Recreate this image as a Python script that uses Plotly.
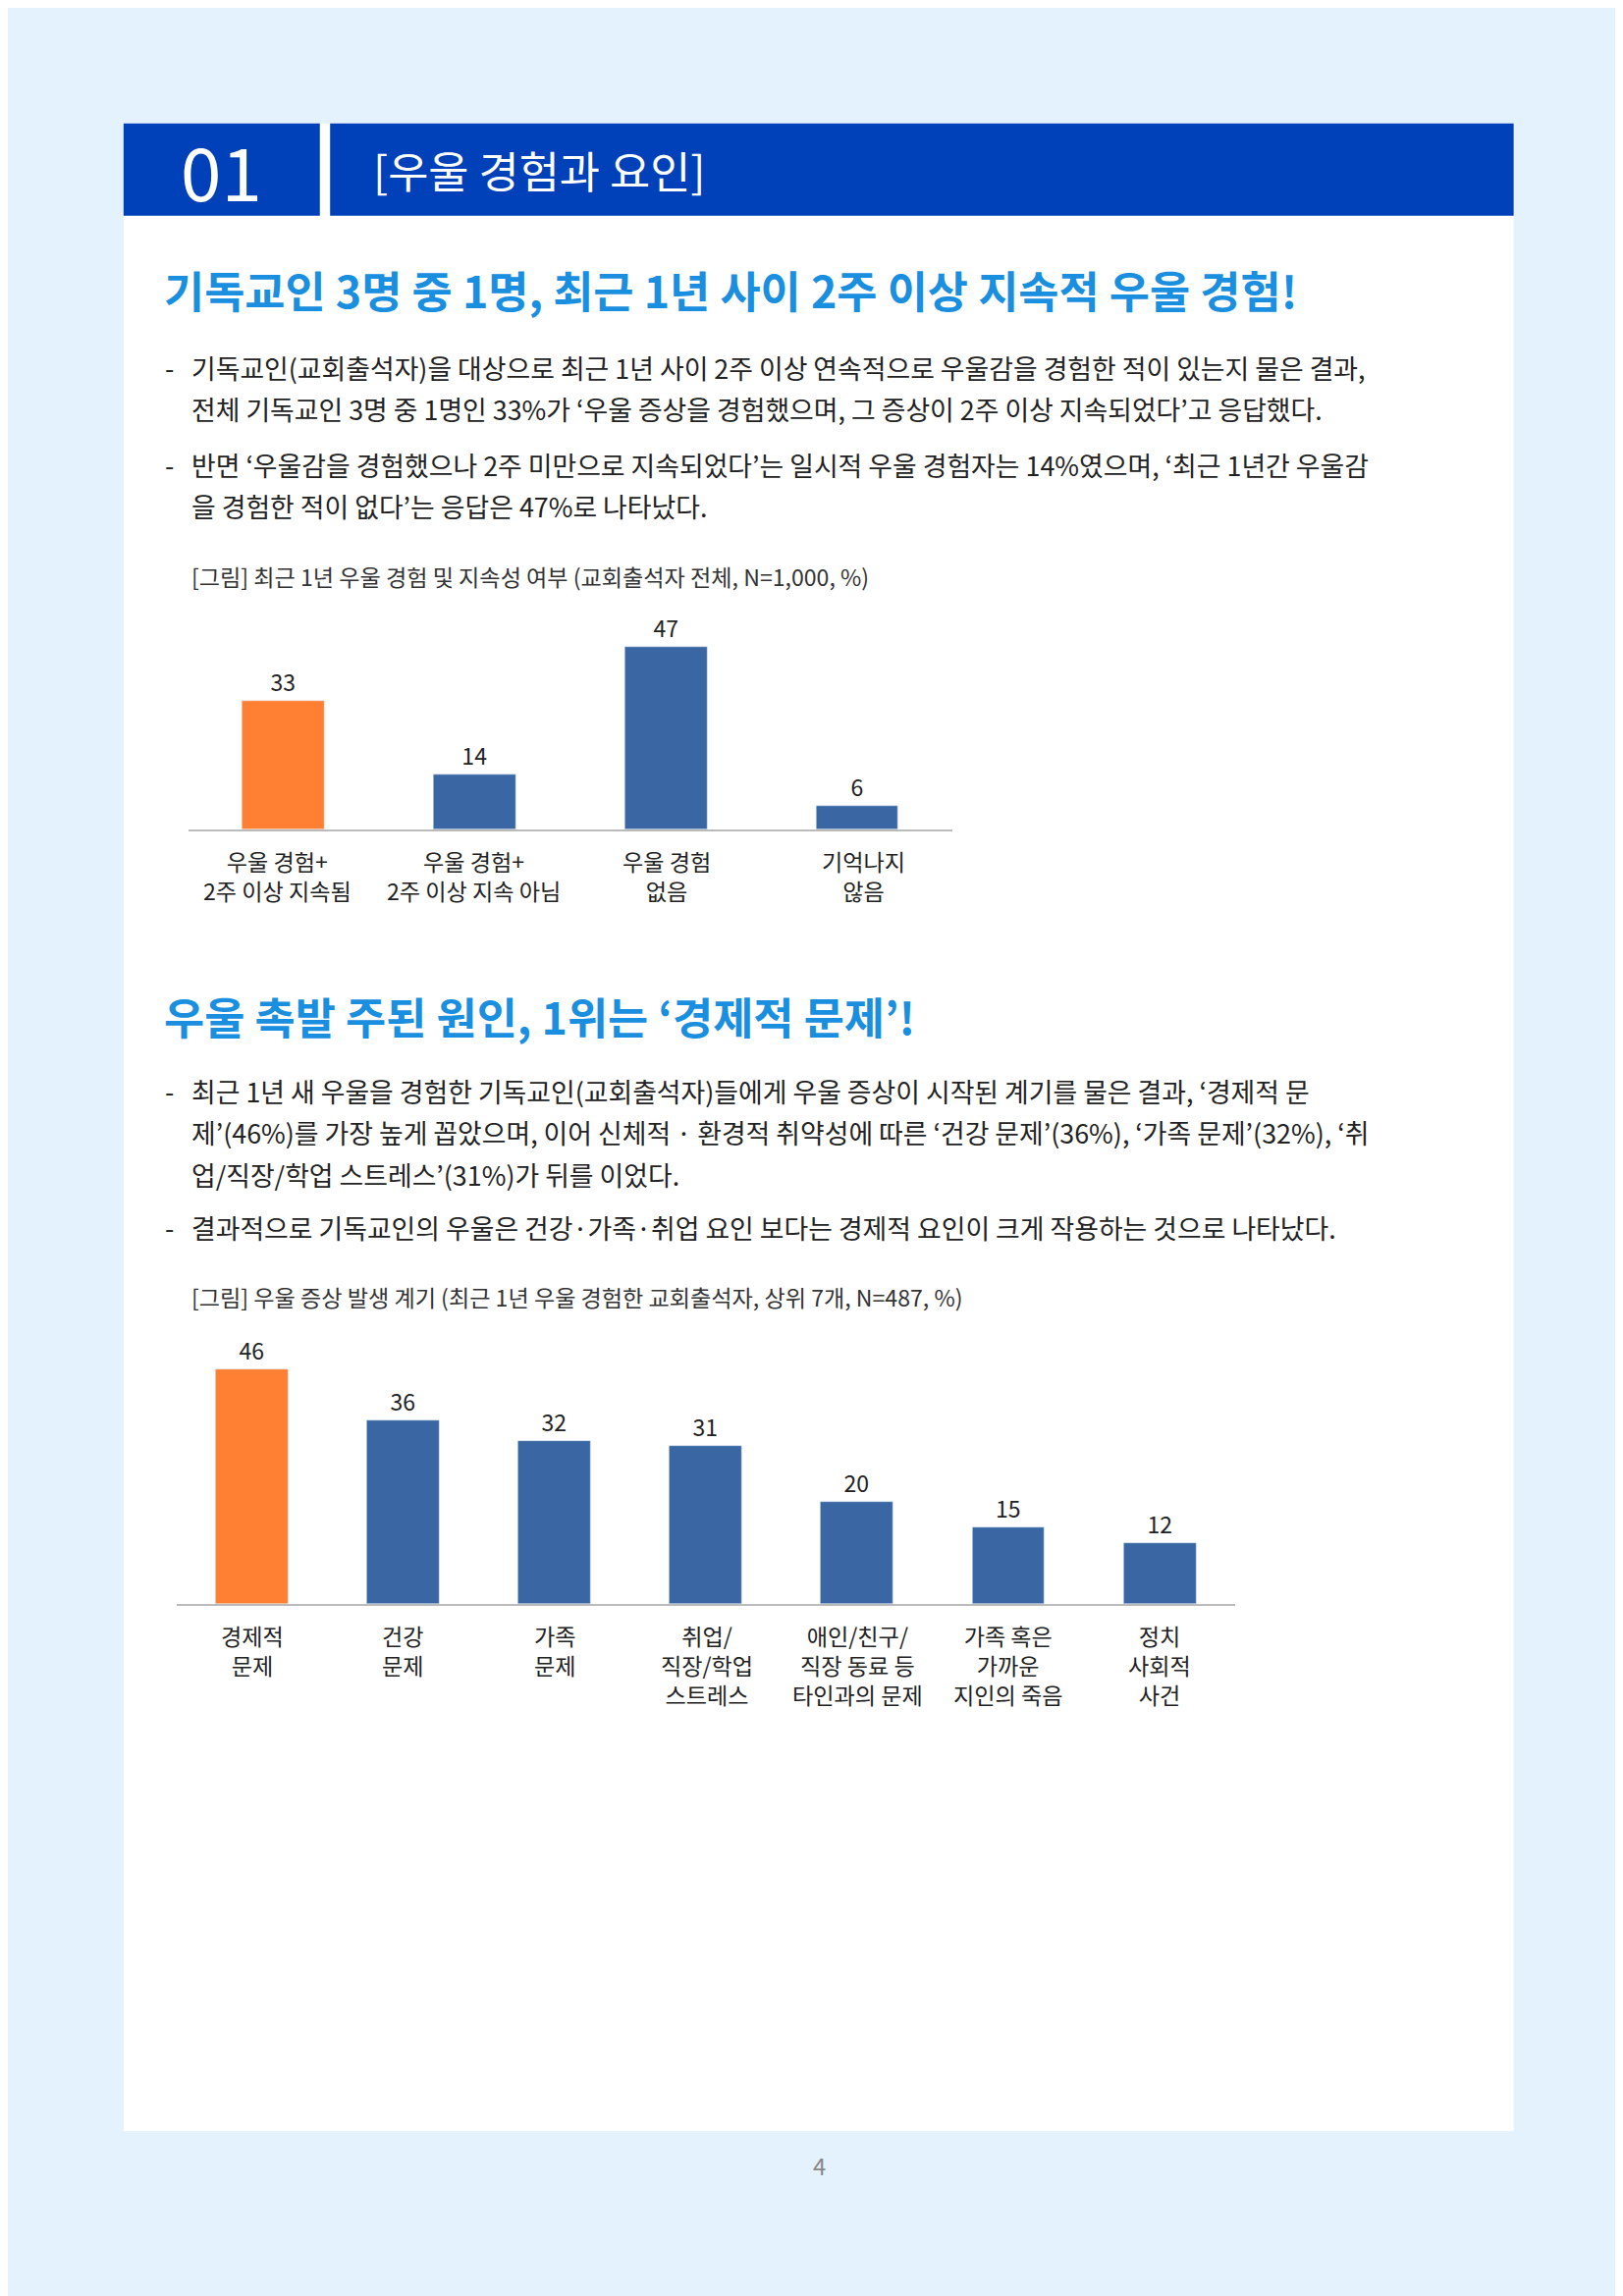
import plotly.graph_objects as go

W, H = 1653, 2339
S = W / 1108.0
FONT = "Noto Sans CJK KR"

cat1 = ["우울 경험+<br>2주 이상 지속됨", "우울 경험+<br>2주 이상 지속 아님", "우울 경험<br>없음", "기억나지<br>않음"]
val1 = [33, 14, 47, 6]
col1 = ["#ff8033", "#3a67a3", "#3a67a3", "#3a67a3"]

cat2 = ["경제적<br>문제", "건강<br>문제", "가족<br>문제", "취업/<br>직장/학업<br>스트레스",
        "애인/친구/<br>직장 동료 등<br>타인과의 문제", "가족 혹은<br>가까운<br>지인의 죽음", "정치<br>사회적<br>사건"]
val2 = [46, 36, 32, 31, 20, 15, 12]
col2 = ["#ff8033"] + ["#3a67a3"] * 6

def X(x): return x / 1108.0
def Y(y): return 1 - y / 1568.0

fig = go.Figure()
fig.add_trace(go.Bar(x=list(range(4)), y=val1, marker_color=col1, width=0.43,
                     text=val1, textposition="outside", textfont=dict(size=23, color="#222", family=FONT),
                     cliponaxis=False, xaxis="x", yaxis="y"))
fig.add_trace(go.Bar(x=list(range(7)), y=val2, marker_color=col2, width=0.48,
                     text=val2, textposition="outside", textfont=dict(size=23, color="#222", family=FONT),
                     cliponaxis=False, xaxis="x2", yaxis="y2"))

shapes = [
    dict(type="rect", xref="paper", yref="paper", x0=X(79), x1=X(1028), y0=Y(1450), y1=Y(79), fillcolor="white", line_width=0, layer="below"),
    dict(type="rect", xref="paper", yref="paper", x0=X(79), x1=X(213), y0=Y(142), y1=Y(79), fillcolor="#0040b8", line_width=0, layer="below"),
    dict(type="rect", xref="paper", yref="paper", x0=X(220), x1=X(1028), y0=Y(142), y1=Y(79), fillcolor="#0040b8", line_width=0, layer="below"),
]

ann = []
def T(x, y, t, size, color="#222", anchor="left", bold=False):
    ann.append(dict(xref="paper", yref="paper", x=X(x), y=Y(y), text=("<b>%s</b>" % t) if bold else t,
                    showarrow=False, xanchor=anchor, yanchor="middle",
                    font=dict(size=size * S, color=color, family=FONT), align="center"))

T(146, 110, "01", 50, "white", "center")
T(248, 110, "[우울 경험과 요인]", 30, "white")
T(105, 192, "기독교인 3명 중 1명, 최근 1년 사이 2주 이상 지속적 우울 경험!", 30, "#1a8fe0", bold=True)
body = [
    (246, "-", "기독교인(교회출석자)을 대상으로 최근 1년 사이 2주 이상 연속적으로 우울감을 경험한 적이 있는지 물은 결과,"),
    (274, "", "전체 기독교인 3명 중 1명인 33%가 ‘우울 증상을 경험했으며, 그 증상이 2주 이상 지속되었다’고 응답했다."),
    (312, "-", "반면 ‘우울감을 경험했으나 2주 미만으로 지속되었다’는 일시적 우울 경험자는 14%였으며, ‘최근 1년간 우울감"),
    (340, "", "을 경험한 적이 없다’는 응답은 47%로 나타났다."),
    (740, "-", "최근 1년 새 우울을 경험한 기독교인(교회출석자)들에게 우울 증상이 시작된 계기를 물은 결과, ‘경제적 문"),
    (768, "", "제’(46%)를 가장 높게 꼽았으며, 이어 신체적 · 환경적 취약성에 따른 ‘건강 문제’(36%), ‘가족 문제’(32%), ‘취"),
    (797, "", "업/직장/학업 스트레스’(31%)가 뒤를 이었다."),
    (833, "-", "결과적으로 기독교인의 우울은 건강·가족·취업 요인 보다는 경제적 요인이 크게 작용하는 것으로 나타났다."),
]
for y, d, t in body:
    if d: T(106, y, d, 18)
    T(124, y, t, 18)
T(124, 388, "[그림] 최근 1년 우울 경험 및 지속성 여부 (교회출석자 전체, N=1,000, %)", 15.5, "#333")
T(105, 688, "우울 촉발 주된 원인, 1위는 ‘경제적 문제’!", 30, "#1a8fe0", bold=True)
T(124, 880, "[그림] 우울 증상 발생 계기 (최근 1년 우울 경험한 교회출석자, 상위 7개, N=487, %)", 15.5, "#333")
T(554, 1473, "4", 16, "#888", "center")

c1 = [184, 318, 450, 584]
for x, c in zip(c1, cat1):
    ann.append(dict(xref="paper", yref="paper", x=X(x), y=Y(570), text=c, showarrow=False,
                    xanchor="center", yanchor="top", align="center",
                    font=dict(size=15.5 * S, color="#222", family=FONT)))
c2 = [167, 270, 374, 477, 580, 683, 786]
for x, c in zip(c2, cat2):
    ann.append(dict(xref="paper", yref="paper", x=X(x), y=Y(1099), text=c, showarrow=False,
                    xanchor="center", yanchor="top", align="center",
                    font=dict(size=15.5 * S, color="#222", family=FONT)))

axcommon = dict(showgrid=False, zeroline=False, showticklabels=False, ticks="")
fig.update_layout(
    width=W, height=H, margin=dict(l=0, r=0, t=0, b=0),
    paper_bgcolor="#e3f2fd", plot_bgcolor="rgba(0,0,0,0)", showlegend=False,
    shapes=shapes, annotations=ann, bargap=0,
    xaxis=dict(domain=[X(123), X(645)], range=[-0.5, 3.5], showline=True, linecolor="#bbb", linewidth=1.5, **axcommon),
    yaxis=dict(domain=[Y(561), Y(415)], range=[0, 55], showline=False, **axcommon),
    xaxis2=dict(domain=[X(115), X(838)], range=[-0.5, 6.5], showline=True, linecolor="#bbb", linewidth=1.5, anchor="y2", **axcommon),
    yaxis2=dict(domain=[Y(1090), Y(909)], range=[0, 52], showline=False, anchor="x2", **axcommon),
)
fig.write_html("out.html")
